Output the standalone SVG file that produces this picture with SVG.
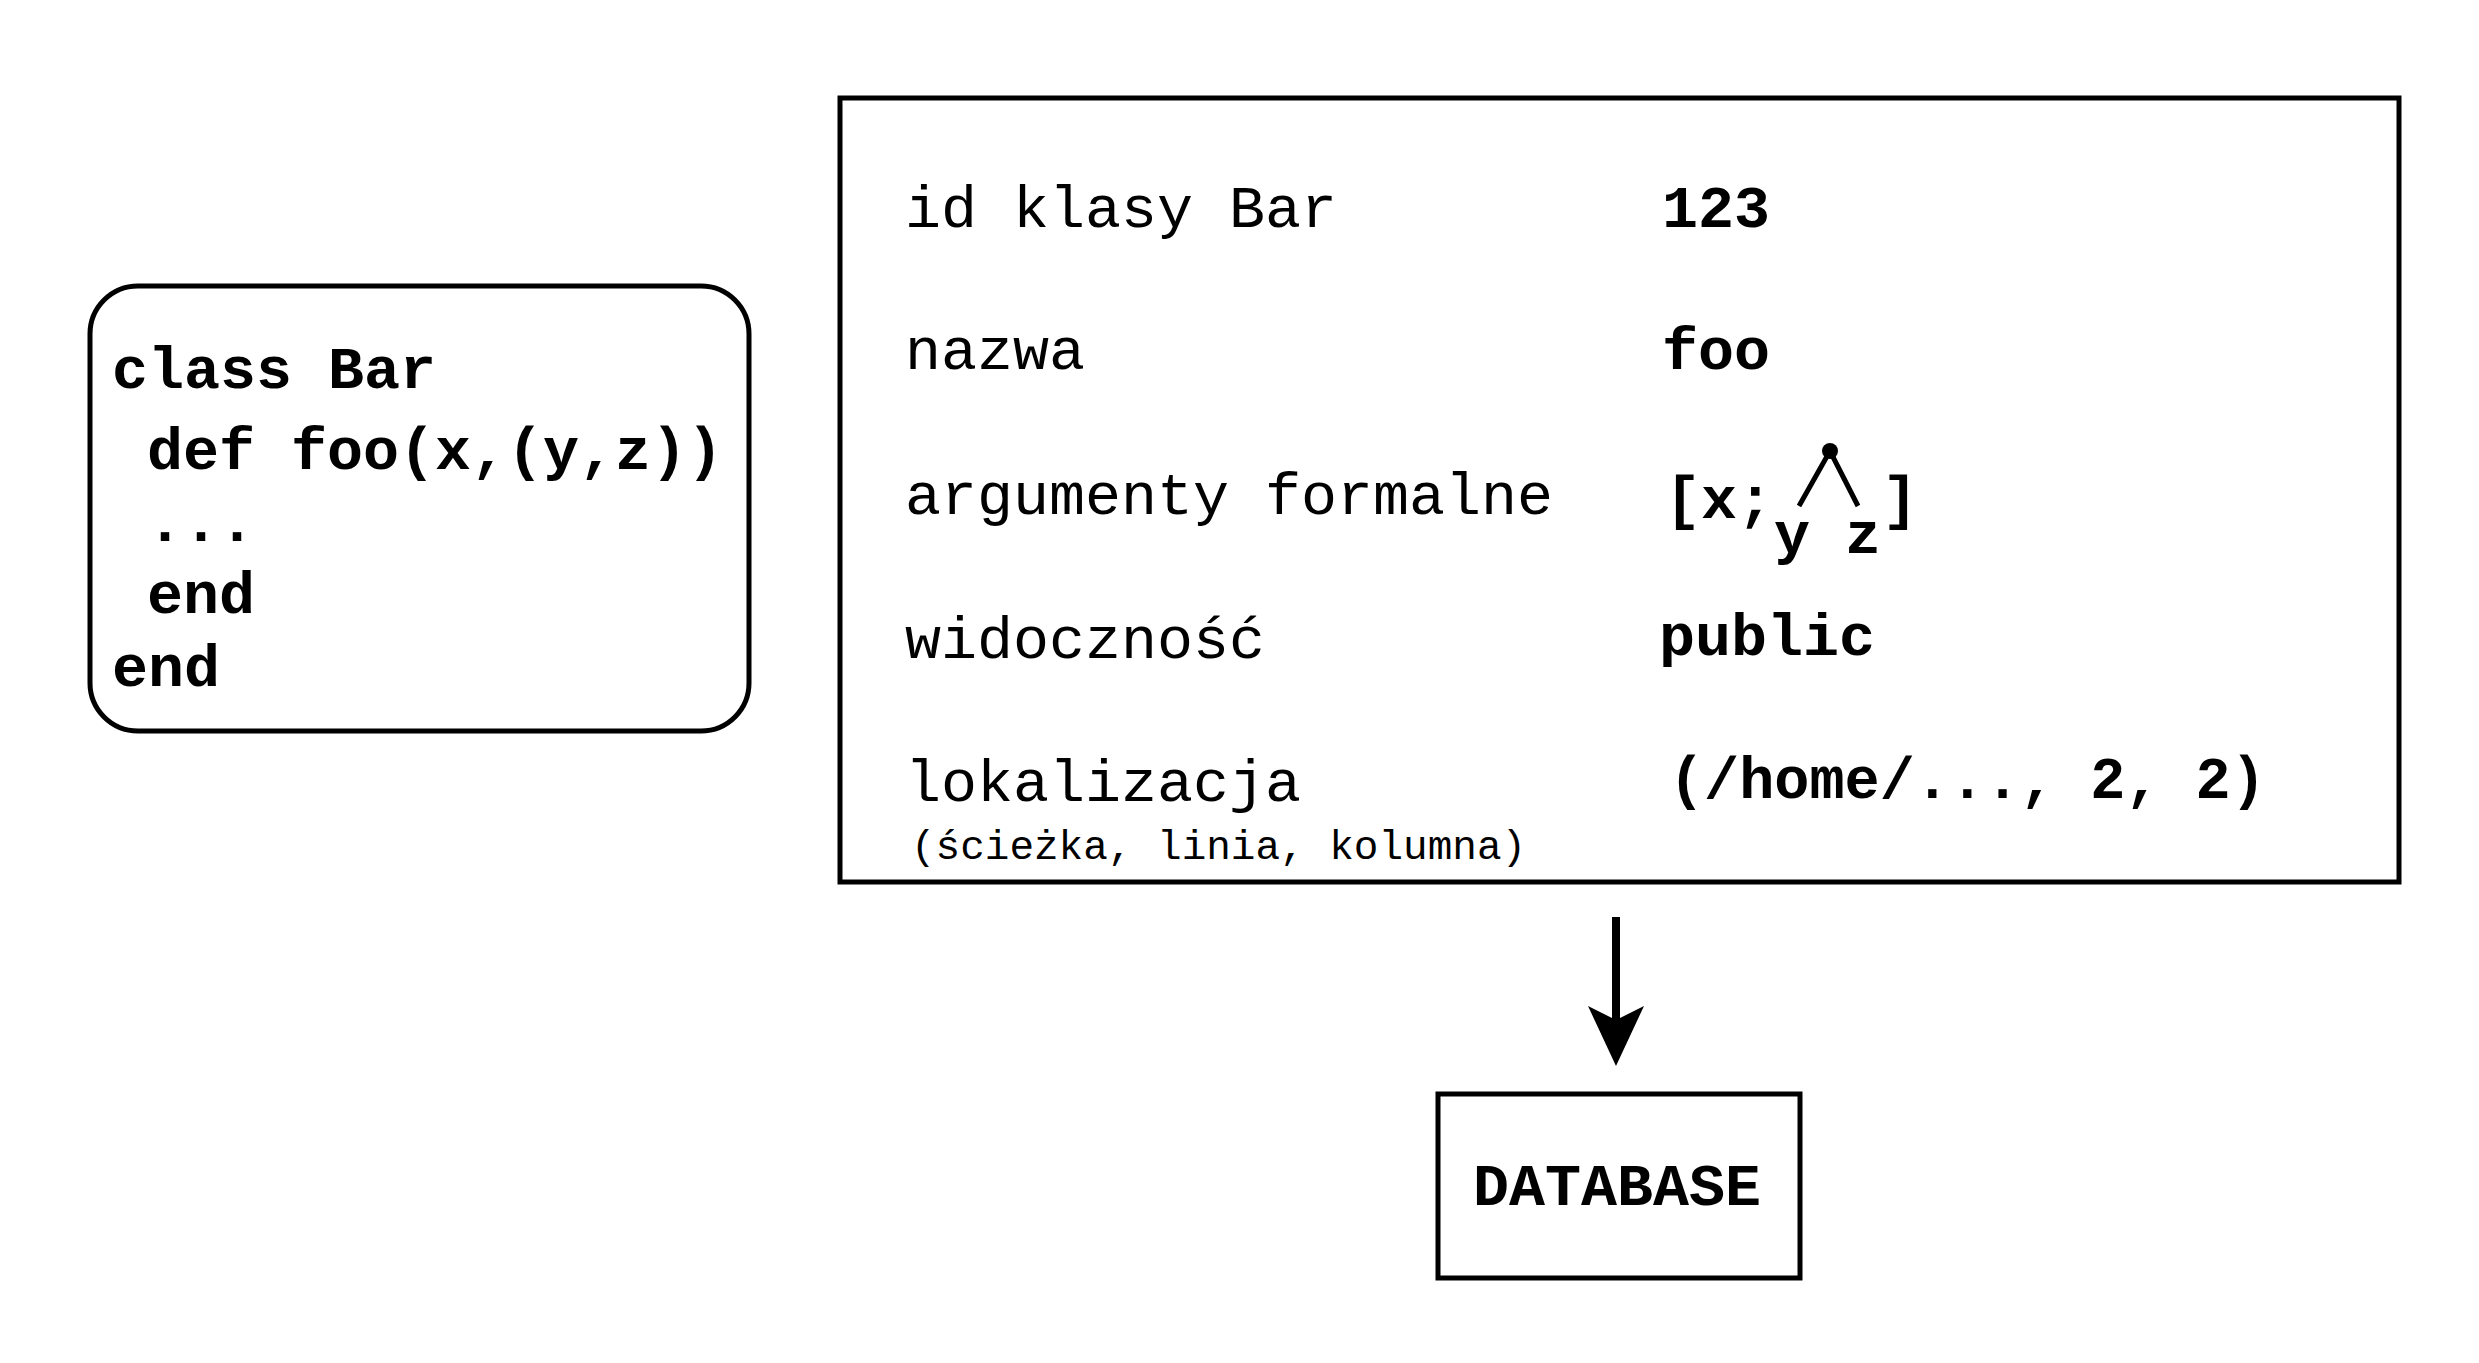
<svg xmlns="http://www.w3.org/2000/svg" width="2479" height="1363" viewBox="0 0 2479 1363">
<style>
.box{fill:#fff;stroke:#000;stroke-width:5}
.code{font-family:"Liberation Mono","DejaVu Sans Mono",monospace;font-size:60px;font-weight:bold;fill:#000}
.lbl{font-family:"Liberation Mono","DejaVu Sans Mono",monospace;font-size:60px;fill:#000}
.small{font-family:"Liberation Mono","DejaVu Sans Mono",monospace;font-size:41px;fill:#000}
</style>
<rect width="2479" height="1363" fill="#fff"/>
<g id="source">
<rect class="box" x="90" y="286" width="659" height="445" rx="48" ry="48"/>
<text class="code" x="112" y="388">class Bar</text>
<text class="code" x="147" y="469">def foo(x,(y,z))</text>
<text class="code" x="147" y="541">...</text>
<text class="code" x="147" y="613">end</text>
<text class="code" x="112" y="686">end</text>
</g>
<g id="record">
<rect class="box" x="840" y="98" width="1559" height="784"/>
<text class="lbl" x="905" y="227">id klasy Bar</text>
<text class="code" x="1662" y="227">123</text>
<text class="lbl" x="905" y="369">nazwa</text>
<text class="code" x="1662" y="369">foo</text>
<text class="lbl" x="905" y="514">argumenty formalne</text>
<text class="code" x="1665" y="518">[x;</text>
<circle cx="1830" cy="451" r="8" fill="#000"/>
<path d="M1799,506 L1830,451 L1858,506" fill="none" stroke="#000" stroke-width="5"/>
<text class="code" x="1792" y="553" text-anchor="middle">y</text>
<text class="code" x="1863" y="553" text-anchor="middle">z</text>
<text class="code" x="1882" y="518">]</text>
<text class="lbl" x="905" y="658">widoczność</text>
<text class="code" x="1659" y="655">public</text>
<text class="lbl" x="905" y="801">lokalizacja</text>
<text class="code" x="1669" y="798" style="font-size:58.5px">(/home/..., 2, 2)</text>
<text class="small" x="911" y="859">(ścieżka, linia, kolumna)</text>
</g>
<g id="connectors">
<line x1="1616" y1="917" x2="1616" y2="1022" stroke="#000" stroke-width="8"/>
<polygon points="1616,1066 1588,1006 1616,1020 1644,1006" fill="#000"/>
</g>
<g id="database">
<rect class="box" x="1438" y="1094" width="362" height="184"/>
<text class="code" x="1617" y="1205" text-anchor="middle">DATABASE</text>
</g>
</svg>
